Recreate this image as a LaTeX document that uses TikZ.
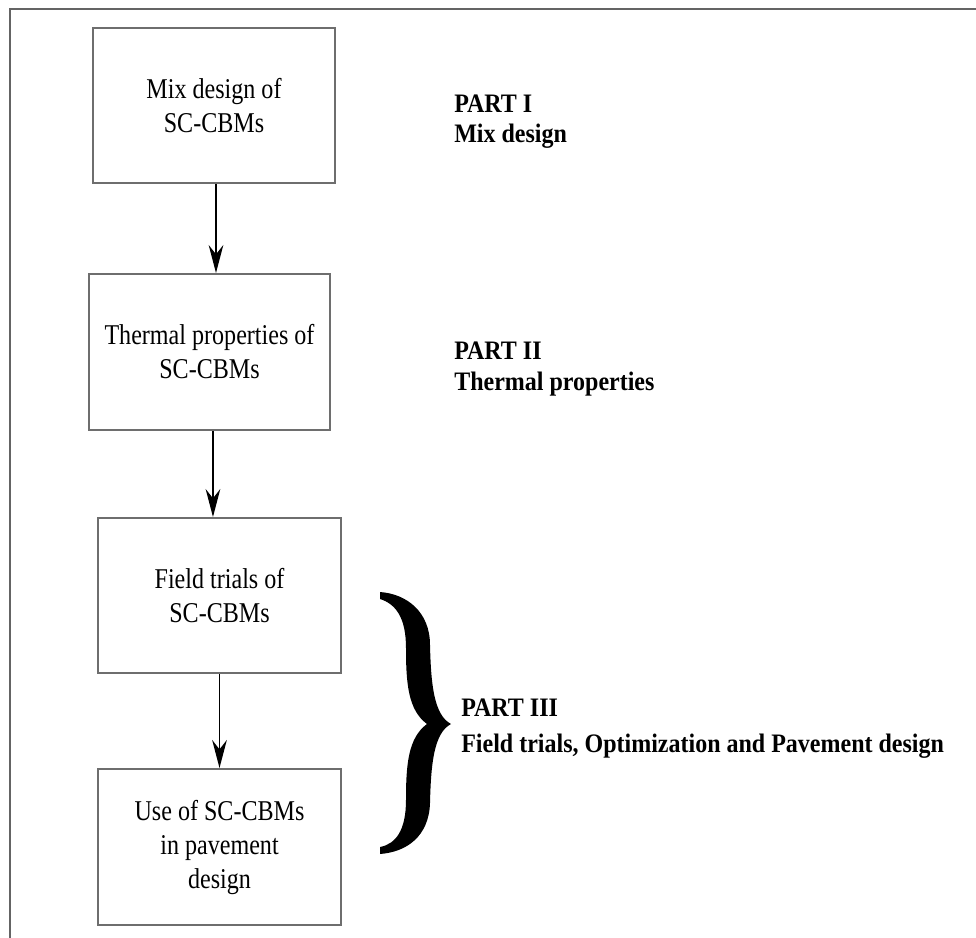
\documentclass[tikz,border=0pt]{standalone}
\usepackage{fontspec}
\setmainfont{Liberation Serif}
\newfontfamily\boxfont[FakeStretch=0.84]{Liberation Serif}
\newfontfamily\partfont[FakeStretch=0.9]{Liberation Serif}
\usetikzlibrary{arrows.meta}
\definecolor{framegray}{RGB}{100,100,100}
\definecolor{boxgray}{RGB}{110,110,110}
\begin{document}
\begin{tikzpicture}[x=0.75pt,y=-0.75pt,
  procbox/.style={draw=boxgray, line width=1.5pt, fill=white, inner sep=0pt, align=center,
    font=\boxfont\fontsize{21.5}{25.5}\selectfont},
  flow/.style={-{Stealth[length=21pt,width=11pt,inset=7pt]}, line width=1.1pt},
  partlabel/.style={anchor=base west, inner sep=0pt,
    font=\partfont\bfseries\fontsize{20}{24}\selectfont},
]
\useasboundingbox (0,0) rectangle (976,938);
\draw[framegray, line width=1.6pt] (10,9) rectangle (1000,960);

\node[procbox, minimum width=181.5pt, minimum height=116.25pt] (b1) at (214,105.5) {Mix design of\\SC-CBMs};
\node[procbox, minimum width=180.75pt, minimum height=117pt] (b2) at (209.5,352) {Thermal properties of\\SC-CBMs};
\node[procbox, minimum width=182.25pt, minimum height=116.25pt] (b3) at (219.5,595.5) {Field trials of\\SC-CBMs};
\node[procbox, minimum width=182.25pt, minimum height=117pt] (b4) at (219.5,847) {Use of SC-CBMs\\in pavement\\design};

\draw[flow] ([xshift=1.5pt]b1.south) -- ([xshift=1.5pt]b1.south |- b2.north);
\draw[flow] ([xshift=2.6pt]b2.south) -- ([xshift=2.6pt]b2.south |- b3.north);
\draw[flow] (b3.south) -- (b4.north);

% curly brace
\fill[black] (380,592)
  .. controls (407,594) and (430,612) .. (430,645)
  .. controls (431,685) and (434,715) .. (451,724)
  .. controls (434,733) and (431,763) .. (430,803)
  .. controls (429,836) and (407,852) .. (380,854)
  -- (380,847)
  .. controls (396,844) and (406,830) .. (406,800)
  .. controls (406,765) and (408,738) .. (427,724)
  .. controls (408,710) and (406,683) .. (406,648)
  .. controls (406,618) and (396,604) .. (380,599)
  -- cycle;

\node[partlabel] (p1) at (454,113) {PART I};
\node[partlabel] (p1t) at (454,143) {Mix design};
\node[partlabel] (p2) at (454,359) {PART II};
\node[partlabel] (p2t) at (454,391) {Thermal properties};
\node[partlabel] (p3) at (461,716) {PART III};
\node[partlabel] (p3t) at (461,752) {Field trials, Optimization and Pavement design};
\end{tikzpicture}
\end{document}
